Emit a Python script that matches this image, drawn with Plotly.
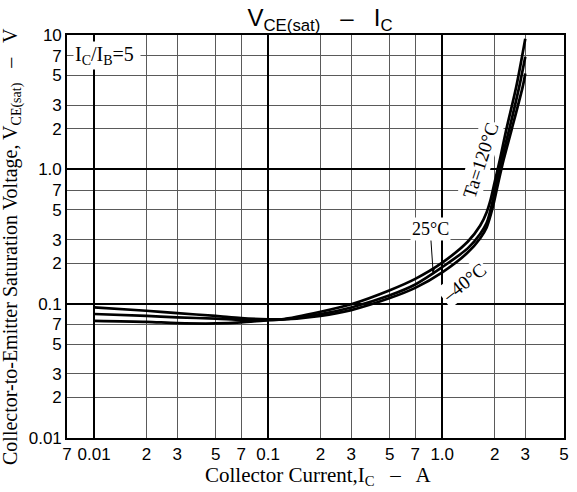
import plotly.graph_objects as go

# ---- data ----
ic_120 = [0.01, 0.02, 0.03, 0.05, 0.07, 0.1, 0.12, 0.2, 0.3, 0.5, 0.7, 1.0, 1.4, 1.65, 1.8, 1.9, 2.0, 2.15, 2.33, 2.66, 3.0]
v_120 = [0.0745, 0.0732, 0.0716, 0.0712, 0.0725, 0.0755, 0.0764, 0.087, 0.099, 0.126, 0.153, 0.202, 0.289, 0.38, 0.48, 0.6, 0.8, 1.2, 1.96, 4.1, 9.4]

ic_25 = [0.01, 0.02, 0.03, 0.05, 0.07, 0.1, 0.12, 0.2, 0.3, 0.5, 0.7, 1.0, 1.4, 1.65, 1.8, 1.93, 2.05, 2.2, 2.42, 2.77, 3.0]
v_25 = [0.0837, 0.081, 0.079, 0.0773, 0.0757, 0.0755, 0.0762, 0.0835, 0.0937, 0.1155, 0.139, 0.187, 0.258, 0.33, 0.40, 0.55, 0.8, 1.2, 1.96, 4.13, 6.9]

ic_m40 = [0.01, 0.02, 0.03, 0.05, 0.07, 0.1, 0.12, 0.2, 0.3, 0.5, 0.7, 1.0, 1.4, 1.65, 1.8, 1.95, 2.1, 2.26, 2.5, 2.9, 3.0]
v_m40 = [0.0938, 0.0885, 0.085, 0.081, 0.0779, 0.0765, 0.0764, 0.0812, 0.0895, 0.110, 0.131, 0.171, 0.24, 0.306, 0.37, 0.52, 0.8, 1.2, 1.96, 4.13, 5.18]

x_tickvals = [0.007, 0.01, 0.02, 0.03, 0.05, 0.07, 0.1, 0.2, 0.3, 0.5, 0.7, 1.0, 2, 3, 5]
x_ticktext = ["7", "0.01", "2", "3", "5", "7", "0.1", "2", "3", "5", "7", "1.0", "2", "3", "5"]
y_tickvals = [0.01, 0.02, 0.03, 0.05, 0.07, 0.1, 0.2, 0.3, 0.5, 0.7, 1.0, 2, 3, 5, 7, 10]
y_ticktext = ["0.01", "2", "3", "5", "7", "0.1", "2", "3", "5", "7", "1.0", "2", "3", "5", "7", "10"]
decades_x = [0.01, 0.1, 1.0]
decades_y = [0.1, 1.0]

XR = [-2.1555, 0.6995]
YR = [-2.0005, 1.0005]

fig = go.Figure()
# invisible trace so the labelled base axes are drawn
fig.add_trace(go.Scatter(x=[0.1], y=[0.1], mode="markers", marker=dict(opacity=0),
                         showlegend=False, hoverinfo="skip"))
for xs, ys in [(ic_120, v_120), (ic_25, v_25), (ic_m40, v_m40)]:
    fig.add_trace(go.Scatter(x=xs, y=ys, mode="lines", xaxis="x2", yaxis="y2",
                             line=dict(color="black", width=2.7, shape="spline", smoothing=0.8),
                             showlegend=False, hoverinfo="skip"))

serif = "Liberation Serif"
sans = "Liberation Sans"

fig.update_layout(
    width=577, height=492,
    margin=dict(l=67, r=13, t=35, b=54, autoexpand=False),
    paper_bgcolor="white", plot_bgcolor="white",
    showlegend=False,
    title=dict(text="V<sub>CE(sat)</sub>   –   I<sub>C</sub>", x=320 / 577, xanchor="center",
               y=1 - 18 / 492, yanchor="middle", yref="container",
               font=dict(family=sans, size=24, color="black")),
    xaxis=dict(type="log", range=XR, tickvals=x_tickvals, ticktext=x_ticktext,
               showgrid=True, gridcolor="#5a5a5a", gridwidth=1.3, zeroline=False,
               showline=True, linecolor="black", linewidth=1.6, mirror=True,
               ticks="", tickfont=dict(family=sans, size=17, color="black")),
    yaxis=dict(type="log", range=YR, tickvals=y_tickvals, ticktext=y_ticktext,
               showgrid=True, gridcolor="#5a5a5a", gridwidth=1.3, zeroline=False,
               showline=True, linecolor="black", linewidth=1.6, mirror=True,
               ticks="", tickfont=dict(family=sans, size=17, color="black")),
    xaxis2=dict(type="log", range=XR, overlaying="x", tickvals=decades_x, showticklabels=False,
                showgrid=True, gridcolor="black", gridwidth=1.5, zeroline=False, ticks="",
                showline=False),
    yaxis2=dict(type="log", range=YR, overlaying="y", tickvals=decades_y, showticklabels=False,
                showgrid=True, gridcolor="black", gridwidth=1.5, zeroline=False, ticks="",
                showline=False),
)

# axis titles
fig.add_annotation(text="Collector Current,I<sub>C</sub>   –   A", xref="paper", yref="paper",
                   x=0.505, y=-0.094, xanchor="center", yanchor="middle", showarrow=False,
                   font=dict(family=serif, size=21, color="black"))
fig.add_annotation(text="Collector-to-Emitter Saturation Voltage, V<sub>CE(sat)</sub>   –   V",
                   xref="paper", yref="paper", x=-0.1107, y=0.4764, xanchor="center", yanchor="middle",
                   textangle=-90, showarrow=False, font=dict(family=serif, size=20, color="black"))

ann_font = dict(family=serif, size=19, color="black")
fig.add_annotation(text="I<sub>C</sub>/I<sub>B</sub>=5 ", xref="paper", yref="paper",
                   x=0.012, y=0.95, xanchor="left", yanchor="middle", showarrow=False,
                   bgcolor="white", font=dict(family=serif, size=20, color="black"))
fig.add_annotation(text="Ta=120°C", xref="x2", yref="y2", x=0.218, y=0.069,
                   showarrow=False, textangle=-72, bgcolor="white", font=ann_font)
fig.add_annotation(text="25°C", xref="x2", yref="y2", x=-0.052, y=-0.772,
                   ax=-3, ay=-44, showarrow=True, arrowhead=2, arrowsize=0.8, arrowwidth=1,
                   arrowcolor="black", bgcolor="white", font=dict(family=serif, size=18, color="black"))
fig.add_annotation(text="–40°C", xref="x2", yref="y2", x=0.125, y=-0.84,
                   showarrow=False, textangle=-38, bgcolor="white", font=ann_font)

fig.write_html("out.html", config={"displayModeBar": False},
               post_script="document.body.style.margin='0';document.body.style.overflow='hidden';")
